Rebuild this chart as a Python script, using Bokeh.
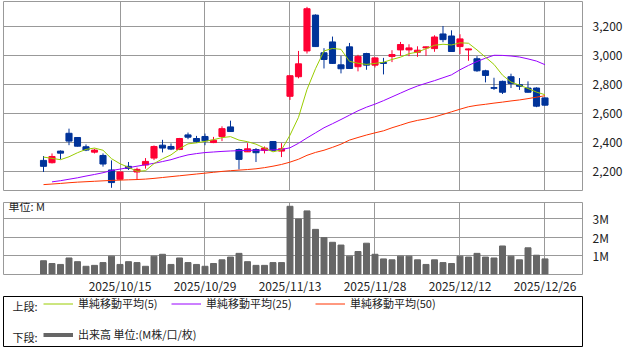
import math
from bokeh.plotting import figure
from bokeh.layouts import column
from bokeh.models import (Range1d, FixedTicker, NumeralTickFormatter, PrintfTickFormatter,
                          ColumnDataSource, Label, Legend, LegendItem)
from bokeh.core.properties import value
from bokeh.embed import file_html
from bokeh.resources import INLINE

FONT = "Noto Sans CJK JP"

# ---------------- data ----------------
dates = [
    "2025/10/01", "2025/10/02", "2025/10/03", "2025/10/06", "2025/10/07", "2025/10/08", "2025/10/09",
    "2025/10/10", "2025/10/14", "2025/10/15", "2025/10/16", "2025/10/17", "2025/10/20", "2025/10/21",
    "2025/10/22", "2025/10/23", "2025/10/24", "2025/10/27", "2025/10/28", "2025/10/29", "2025/10/30",
    "2025/10/31", "2025/11/04", "2025/11/05", "2025/11/06", "2025/11/07", "2025/11/10", "2025/11/11",
    "2025/11/12", "2025/11/13", "2025/11/14", "2025/11/17", "2025/11/18", "2025/11/19", "2025/11/20",
    "2025/11/21", "2025/11/25", "2025/11/26", "2025/11/27", "2025/11/28", "2025/12/01", "2025/12/02",
    "2025/12/03", "2025/12/04", "2025/12/05", "2025/12/08", "2025/12/09", "2025/12/10", "2025/12/11",
    "2025/12/12", "2025/12/15", "2025/12/16", "2025/12/17", "2025/12/18", "2025/12/19", "2025/12/22",
    "2025/12/23", "2025/12/24", "2025/12/25", "2025/12/26",
]
tick_dates = ["2025/10/15", "2025/10/29", "2025/11/13", "2025/11/28", "2025/12/12", "2025/12/26"]

opens = [2280, 2264, 2344, 2467, 2438, 2374, 2337, 2314, 2214, 2150,
         2239, 2200, 2248, 2296, 2385, 2376, 2355, 2456, 2431, 2445,
         2403, 2445, 2511, 2355, 2339, 2355, 2349, 2410, 2344, 2722,
         2857, 3035, 3282, 3022, 3097, 2939, 3063, 2926, 3017, 2937,
         2955, 2997, 3042, 3042, 3026, 3056, 3051, 3152, 3138, 3065,
         3042, 2981, 2898, 2782, 2825, 2857, 2802, 2779, 2779, 2711]
highs = [2310, 2328, 2349, 2499, 2440, 2390, 2360, 2328, 2280, 2202,
         2269, 2230, 2296, 2383, 2422, 2397, 2435, 2472, 2449, 2465,
         2442, 2515, 2554, 2362, 2399, 2365, 2376, 2412, 2399, 2866,
         3035, 3339, 3287, 3054, 3134, 3001, 3090, 3008, 3022, 2989,
         2987, 3040, 3097, 3081, 3067, 3065, 3143, 3207, 3177, 3150,
         3051, 2999, 2905, 2850, 2830, 2878, 2848, 2825, 2784, 2713]
lows = [2200, 2259, 2287, 2385, 2376, 2344, 2328, 2237, 2091, 2148,
        2214, 2150, 2223, 2282, 2335, 2351, 2351, 2426, 2401, 2385,
        2399, 2413, 2478, 2218, 2339, 2269, 2328, 2347, 2303, 2697,
        2846, 3017, 3063, 2914, 2945, 2880, 2912, 2894, 2905, 2921,
        2873, 2958, 3001, 2999, 2994, 3001, 3029, 3095, 3029, 3013,
        2967, 2891, 2818, 2766, 2738, 2779, 2766, 2748, 2647, 2658]
closes = [2239, 2307, 2330, 2413, 2378, 2351, 2351, 2255, 2127, 2200,
          2225, 2218, 2273, 2376, 2365, 2358, 2431, 2440, 2410, 2415,
          2419, 2499, 2479, 2287, 2360, 2333, 2365, 2349, 2360, 2864,
          2946, 3326, 3065, 2976, 2949, 2912, 2914, 2997, 2937, 2987,
          2949, 3010, 3079, 3056, 3040, 3063, 3131, 3113, 3031, 3118,
          3049, 2898, 2866, 2777, 2750, 2811, 2791, 2750, 2654, 2661]
ma5 = [2303, 2294, 2285, 2305, 2333, 2356, 2365, 2350, 2292, 2257,
       2232, 2205, 2209, 2258, 2291, 2318, 2361, 2394, 2401, 2411,
       2423, 2437, 2444, 2420, 2409, 2392, 2365, 2339, 2353, 2454,
       2577, 2769, 2912, 3035, 3052, 3046, 2963, 2950, 2942, 2949,
       2957, 2976, 2992, 3016, 3027, 3050, 3074, 3081, 3076, 3091,
       3088, 3042, 2992, 2942, 2868, 2820, 2799, 2776, 2751, 2733]
ma25 = [float("nan"), 2132, 2140, 2150, 2160, 2172, 2183, 2195, 2210, 2220,
        2230, 2240, 2250, 2260, 2272, 2285, 2303, 2318, 2327, 2334,
        2338, 2342, 2345, 2347, 2349, 2350, 2351, 2352, 2355, 2367,
        2398, 2435, 2470, 2505, 2533, 2562, 2592, 2622, 2647, 2668,
        2692, 2718, 2744, 2770, 2793, 2812, 2830, 2850, 2870, 2905,
        2935, 2962, 2985, 3005, 3004, 3000, 2993, 2980, 2965, 2940]
ma50 = [2113, 2117, 2121, 2126, 2130, 2133, 2136, 2139, 2142, 2144,
        2146, 2148, 2151, 2156, 2162, 2168, 2174, 2180, 2186, 2192,
        2198, 2204, 2209, 2213, 2217, 2222, 2230, 2240, 2252, 2268,
        2288, 2315, 2335, 2350, 2370, 2392, 2420, 2438, 2455, 2470,
        2484, 2505, 2523, 2542, 2556, 2566, 2580, 2597, 2615, 2633,
        2650, 2660, 2667, 2675, 2682, 2690, 2697, 2706, 2716, 2726]
volumes = [0.72, 0.57, 0.52, 0.87, 0.67, 0.42, 0.47, 0.62, 0.97, 0.52,
           0.67, 0.62, 0.42, 0.97, 1.07, 0.52, 0.87, 0.62, 0.52, 0.42,
           0.57, 0.77, 0.92, 1.12, 0.67, 0.47, 0.47, 0.62, 0.62, 3.67,
           2.98, 3.42, 2.42, 1.97, 1.72, 1.57, 0.97, 1.22, 1.67, 1.07,
           0.82, 0.77, 0.97, 0.97, 0.77, 0.52, 0.77, 0.62, 0.57, 0.97,
           0.92, 1.12, 0.92, 0.87, 1.52, 0.97, 0.77, 1.42, 1.02, 0.82]
price_ticks = [2200, 2400, 2600, 2800, 3000, 3200]
volume_ticks = [1, 2, 3]

legend_labels = ["単純移動平均(5)", "単純移動平均(25)", "単純移動平均(50)"]
volume_label = "出来高 単位:(M株/口/枚)"

UP = "#FF0033"
DOWN = "#003399"
C5, C25, C50 = "#99CC00", "#9900FF", "#FF3300"
GRID = "#999999"

idx = list(range(len(dates)))
tick_idx = [dates.index(d) for d in tick_dates]
colors = [UP if c >= o else DOWN for o, c in zip(opens, closes)]
src = ColumnDataSource(dict(
    x=idx, o=opens, h=highs, l=lows, c=closes,
    top=[max(o, c) for o, c in zip(opens, closes)],
    bot=[min(o, c) for o, c in zip(opens, closes)],
    color=colors, ma5=ma5, ma25=ma25, ma50=ma50, vol=volumes,
))

# ranges chosen so that grid lines fall on pixel centres (crisp 1px lines)
xr = Range1d(-4.706, 63.412)


def style_axis(ax, size="12px"):
    ax.axis_line_color = None
    ax.major_tick_line_color = None
    ax.minor_tick_line_color = None
    ax.major_tick_out = 0
    ax.major_tick_in = 0
    ax.minor_tick_out = 0
    ax.major_label_text_font = FONT
    ax.major_label_text_font_size = size
    ax.major_label_text_color = "#222222"


def add_grid(p, xticks, yticks):
    # grid lines drawn as vspan/hspan glyphs at the tick positions
    p.xgrid.visible = False
    p.ygrid.visible = False
    p.vspan(x=xticks, line_color=GRID, line_width=1)
    p.hspan(y=yticks, line_color=GRID, line_width=1)


def style_fig(p, outline):
    p.outline_line_color = outline
    p.outline_line_width = 1
    p.outline_line_alpha = 1
    p.background_fill_color = "white"
    p.border_fill_color = "white"


# ---------------- price panel ----------------
p1 = figure(width=638, height=191, x_range=xr, y_range=Range1d(2072.4, 3375.86),
            x_axis_location=None, y_axis_location="right",
            output_backend="svg", toolbar_location=None,
            min_border_left=3, min_border_right=56, min_border_top=1, min_border_bottom=1)
style_fig(p1, GRID)
add_grid(p1, tick_idx, price_ticks)
p1.yaxis.ticker = FixedTicker(ticks=price_ticks)
p1.yaxis.formatter = NumeralTickFormatter(format="0,0")
style_axis(p1.yaxis[0])
p1.yaxis.major_label_standoff = 10

p1.segment(x0="x", y0="l", x1="x", y1="h", color="color", line_width=1, source=src)
p1.vbar(x="x", top="top", bottom="bot", width=0.72, fill_color="color", line_color="color",
        line_width=1, source=src)
p1.line(x="x", y="ma50", color=C50, line_width=1, source=src)
p1.line(x="x", y="ma25", color=C25, line_width=1, source=src)
p1.line(x="x", y="ma5", color=C5, line_width=1, source=src)

# ---------------- volume panel ----------------
p2 = figure(width=638, height=105, x_range=xr, y_range=Range1d(-0.025, 3.875),
            y_axis_location="right", output_backend="svg", toolbar_location=None,
            min_border_left=3, min_border_right=56, min_border_top=11, min_border_bottom=16)
style_fig(p2, GRID)
add_grid(p2, tick_idx, volume_ticks)
p2.xaxis.ticker = FixedTicker(ticks=tick_idx)
p2.xaxis.major_label_overrides = {i: d for i, d in zip(tick_idx, tick_dates)}
style_axis(p2.xaxis[0])
p2.xaxis.major_label_standoff = 2
p2.yaxis.ticker = FixedTicker(ticks=volume_ticks)
p2.yaxis.formatter = PrintfTickFormatter(format="%dM")
style_axis(p2.yaxis[0])
p2.yaxis.major_label_standoff = 10
p2.vbar(x="x", top="vol", width=0.7, color="#666666", source=src)
p2.add_layout(Label(x=5, y=69, x_units="screen", y_units="screen", text="単位: M",
                    text_baseline="middle", text_font=FONT, text_font_size="11px",
                    text_color="#222222"))

# ---------------- legend panel ----------------
p3 = figure(width=638, height=66, x_range=Range1d(0, 1), y_range=Range1d(0, 1),
            x_axis_location=None, y_axis_location=None,
            output_backend="svg", toolbar_location=None,
            min_border_left=3, min_border_right=3, min_border_top=0, min_border_bottom=16)
p3.xgrid.visible = False
p3.ygrid.visible = False
style_fig(p3, "black")

nan = float("nan")
r5 = p3.line(x=[nan], y=[nan], color=C5, line_width=1)
r25 = p3.line(x=[nan], y=[nan], color=C25, line_width=1)
r50 = p3.line(x=[nan], y=[nan], color=C50, line_width=1)
rv = p3.line(x=[nan], y=[nan], color="#666666", line_width=4)


def mk_leg(label, r, x, y):
    return Legend(items=[LegendItem(label=value(label), renderers=[r])], location=(x, y),
                  orientation="horizontal", padding=0, margin=0, spacing=0,
                  border_line_color=None, background_fill_alpha=0,
                  glyph_width=30, glyph_height=11, label_height=11, label_standoff=5,
                  label_text_font=FONT, label_text_font_size="11px", label_text_color="#222222")


p3.add_layout(mk_leg(legend_labels[0], r5, 40, 35), "center")
p3.add_layout(mk_leg(legend_labels[1], r25, 168, 35), "center")
p3.add_layout(mk_leg(legend_labels[2], r50, 312, 35), "center")
p3.add_layout(mk_leg(volume_label, rv, 40, 4), "center")
for txt, yy in (("上段:", 40.5), ("下段:", 9.5)):
    p3.add_layout(Label(x=9, y=yy, x_units="screen", y_units="screen", text=txt,
                        text_baseline="middle", text_font=FONT, text_font_size="11px",
                        text_color="#222222"))
p3.add_layout(Label(x=610, y=-7, x_units="screen", y_units="screen",
                    text="(c)Quants Research Inc.", text_align="right", text_baseline="middle",
                    text_font="Noto Sans", text_font_size="12px", text_color="#333333"))

layout = column(p1, p2, p3, spacing=0)
open("out.html", "w").write(file_html(layout, INLINE))
